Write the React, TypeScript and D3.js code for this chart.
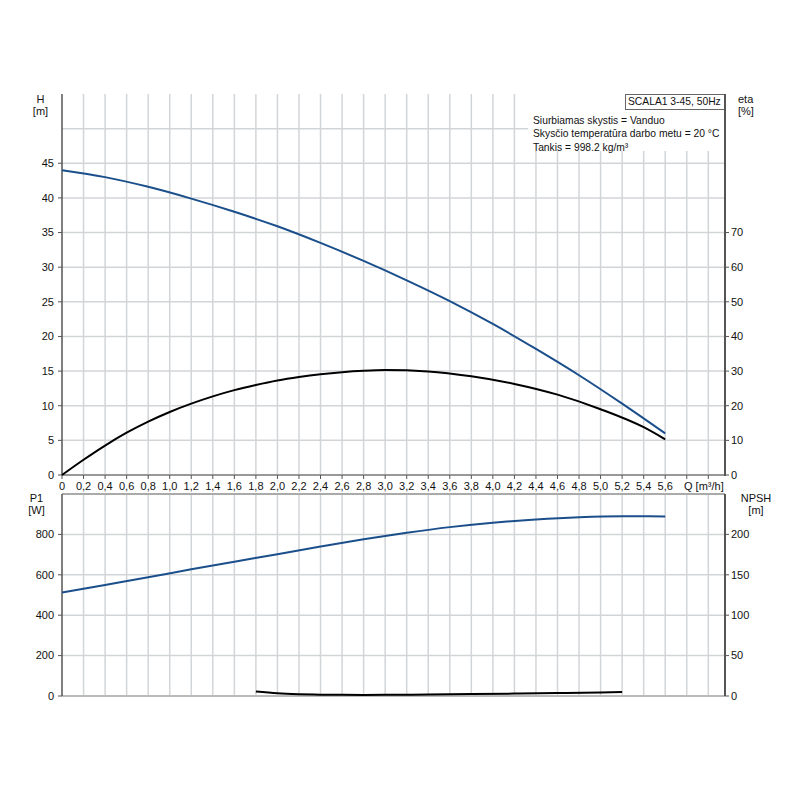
import * as d3 from "d3";

// flow axis ticks [m³/h]
const flowTicks = d3.range(0, 31).map((i) => +(i * 0.2).toFixed(1));
const flowLabelMax = 5.6;

// head curve H [m]
const headQ = [0, 0.4, 0.8, 1.2, 1.6, 2.0, 2.4, 2.8, 3.2, 3.6, 4.0, 4.4, 4.8, 5.2, 5.6];
const headH = [44.0, 43.0, 41.6, 39.9, 38.0, 35.9, 33.5, 30.9, 28.1, 25.1, 21.8, 18.2, 14.4, 10.3, 6.0];

// efficiency eta [%]
const etaQ = [0, 0.2, 0.4, 0.6, 0.8, 1.0, 1.2, 1.4, 1.6, 1.8, 2.0, 2.2, 2.4, 2.6, 2.8, 3.0, 3.4, 3.8, 4.2, 4.6, 5.0, 5.4, 5.6];
const etaV = [0, 4.4, 8.5, 12.2, 15.4, 18.2, 20.6, 22.7, 24.5, 26.0, 27.3, 28.3, 29.1, 29.7, 30.1, 30.3, 29.9, 28.5, 26.3, 23.2, 19.0, 13.8, 10.3];

// power P1 [W]
const powerQ = [0, 0.4, 0.8, 1.2, 1.6, 2.0, 2.4, 2.8, 3.2, 3.6, 4.0, 4.4, 4.8, 5.2, 5.6];
const powerP = [512, 550, 588, 627, 665, 702, 740, 776, 808, 836, 858, 874, 885, 890, 889];

// NPSH [m]
const npshQ = [1.8, 2.0, 2.2, 2.4, 2.6, 2.8, 3.0, 3.4, 3.8, 4.2, 4.6, 5.0, 5.2];
const npshV = [5.5, 3.4, 2.3, 1.7, 1.4, 1.3, 1.4, 1.8, 2.4, 3.0, 3.6, 4.3, 4.9];

const hTicks = [0, 5, 10, 15, 20, 25, 30, 35, 40, 45];
const hGrid = [5, 10, 15, 20, 25, 30, 35, 40, 45, 50];
const etaTicks = [0, 10, 20, 30, 40, 50, 60, 70];
const pTicks = [0, 200, 400, 600, 800];
const npshTicks = [0, 50, 100, 150, 200];

const infoLines = [
  "Siurbiamas skystis = Vanduo",
  "Skysčio temperatūra darbo metu = 20 °C",
  "Tankis = 998.2 kg/m³",
];
const pumpName = "SCALA1 3-45, 50Hz";

const BLUE = "#1b4f8c";
const GRID = "#d2d5d8";
const AXIS = "#555";
const FONT = "Liberation Sans, Arial, sans-serif";

const left = 62;
const right = 725;
const topA = 94;
const botA = 475;
const topB = 494;
const botB = 696;

const fmt = (v: number) => (v === 0 ? "0" : v.toFixed(1).replace(".", ","));

export default function App() {
  const x = d3.scaleLinear().domain([0, 6.155]).range([left, right]);
  const yH = d3.scaleLinear().domain([0, 55]).range([botA, topA]);
  const yEta = d3.scaleLinear().domain([0, 110]).range([botA, topA]);
  const yP = d3.scaleLinear().domain([0, 1000]).range([botB, topB]);
  const yN = d3.scaleLinear().domain([0, 250]).range([botB, topB]);

  const mk = (qs: number[], vs: number[], y: d3.ScaleLinear<number, number>) =>
    d3
      .line<number>()
      .x((q) => x(q))
      .y((_, i) => y(vs[i]))
      .curve(d3.curveMonotoneX)(qs) ?? undefined;

  const gridQ = flowTicks.filter((q) => q > 0);

  return (
    <div style={{ position: "absolute", left: 0, top: 0 }}>
      <svg width={800} height={800} style={{ fontFamily: FONT, fontSize: 11 }}>
        <rect width={800} height={800} fill="#fff" />

        {/* grid */}
        {gridQ.map((q) => (
          <g key={q}>
            <line x1={x(q)} x2={x(q)} y1={topA} y2={botA} stroke={GRID} strokeWidth={1.5} />
            <line x1={x(q)} x2={x(q)} y1={topB} y2={botB} stroke={GRID} strokeWidth={1.5} />
          </g>
        ))}
        {hGrid.map((h) => (
          <line key={h} x1={left} x2={right} y1={yH(h)} y2={yH(h)} stroke={GRID} strokeWidth={1.5} />
        ))}
        {pTicks.filter((p) => p > 0).map((p) => (
          <line key={p} x1={left} x2={right} y1={yP(p)} y2={yP(p)} stroke={GRID} strokeWidth={1.5} />
        ))}

        {/* info block */}
        <rect x={528} y={topA} width={right - 528} height={57} fill="#fff" />
        <rect x={625.5} y={topA + 0.5} width={right - 626} height={15} fill="#fff" stroke="#666" />
        <text x={628} y={105} fill="#111" fontSize={10.3}>{pumpName}</text>
        {infoLines.map((t, i) => (
          <text key={t} x={533} y={124 + i * 13.3} fill="#111" fontSize={10.3}>{t}</text>
        ))}

        {/* top plot axes */}
        <line x1={left} x2={right} y1={botA} y2={botA} stroke="#999" strokeWidth={2} />
        <line x1={left} x2={left} y1={topA} y2={botA} stroke={AXIS} strokeWidth={1.5} />
        <line x1={right} x2={right} y1={topA} y2={botA + 1} stroke={AXIS} strokeWidth={2} />
        {hTicks.map((h) => (
          <g key={h}>
            <line x1={left - 4} x2={left} y1={yH(h)} y2={yH(h)} stroke={AXIS} />
            <text x={54} y={yH(h)} dy="0.35em" textAnchor="end" fill="#111">{h}</text>
          </g>
        ))}
        {etaTicks.map((e) => (
          <g key={e}>
            <line x1={right} x2={right + 4} y1={yEta(e)} y2={yEta(e)} stroke={AXIS} />
            <text x={731} y={yEta(e)} dy="0.35em" fill="#111">{e}</text>
          </g>
        ))}
        {flowTicks.map((q) => (
          <g key={q}>
            <line x1={x(q)} x2={x(q)} y1={botA} y2={botA + 4} stroke={AXIS} />
            {q <= flowLabelMax + 1e-9 && (
              <text x={x(q)} y={490} textAnchor="middle" fill="#111">{fmt(q)}</text>
            )}
          </g>
        ))}
        <text x={684} y={490} fill="#111">Q [m³/h]</text>
        <text x={40.5} y={103} textAnchor="middle" fill="#111">H</text>
        <text x={40.5} y={115} textAnchor="middle" fill="#111">[m]</text>
        <text x={738} y={103} fill="#111">eta</text>
        <text x={738} y={115} fill="#111">[%]</text>

        {/* bottom plot axes */}
        <line x1={left} x2={right} y1={topB} y2={topB} stroke="#aaa" strokeWidth={2} />
        <line x1={left} x2={right} y1={botB} y2={botB} stroke="#bbb" strokeWidth={2} />
        <line x1={left} x2={left} y1={topB} y2={botB} stroke={AXIS} strokeWidth={1.5} />
        <line x1={right} x2={right} y1={topB} y2={botB} stroke={AXIS} strokeWidth={2} />
        {pTicks.map((p) => (
          <g key={p}>
            <line x1={left - 4} x2={left} y1={yP(p)} y2={yP(p)} stroke={AXIS} />
            <text x={54} y={yP(p)} dy="0.35em" textAnchor="end" fill="#111">{p}</text>
          </g>
        ))}
        {npshTicks.map((n) => (
          <g key={n}>
            <line x1={right} x2={right + 4} y1={yN(n)} y2={yN(n)} stroke={AXIS} />
            <text x={731} y={yN(n)} dy="0.35em" fill="#111">{n}</text>
          </g>
        ))}
        <text x={36.5} y={502} textAnchor="middle" fill="#111">P1</text>
        <text x={36.5} y={514} textAnchor="middle" fill="#111">[W]</text>
        <text x={756} y={502} textAnchor="middle" fill="#111">NPSH</text>
        <text x={756} y={514} textAnchor="middle" fill="#111">[m]</text>

        {/* curves */}
        <path d={mk(headQ, headH, yH)} fill="none" stroke={BLUE} strokeWidth={2} />
        <path d={mk(etaQ, etaV, yEta)} fill="none" stroke="#000" strokeWidth={2} />
        <path d={mk(powerQ, powerP, yP)} fill="none" stroke={BLUE} strokeWidth={2} />
        <path d={mk(npshQ, npshV, yN)} fill="none" stroke="#000" strokeWidth={2} />
      </svg>
    </div>
  );
}
